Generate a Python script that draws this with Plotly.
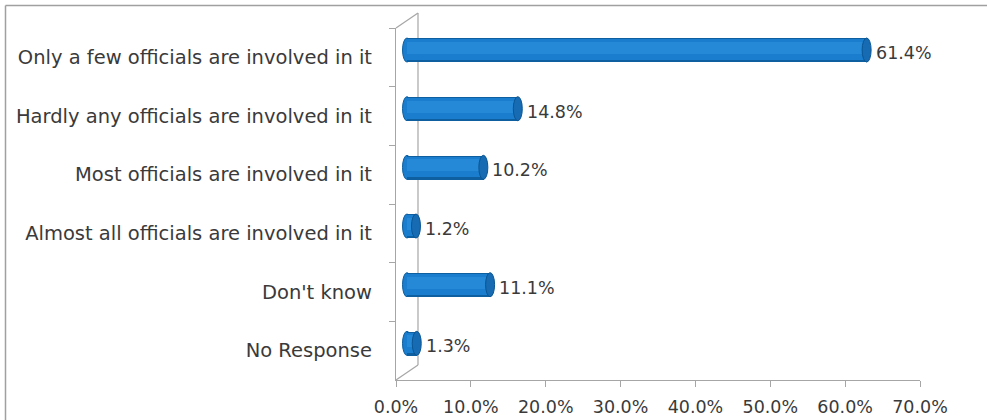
import plotly.graph_objects as go

# Survey responses: share of respondents per answer
categories = [
    "Only a few officials are involved in it",
    "Hardly any officials are involved in it",
    "Most officials are involved in it",
    "Almost all officials are involved in it",
    "Don't know",
    "No Response",
]
shares = [61.4, 14.8, 10.2, 1.2, 11.1, 1.3]
x_ticks = [0, 10, 20, 30, 40, 50, 60, 70]
x_tick_labels = [f"{v:.1f}%" for v in x_ticks]

W, H = 987, 420
AXIS = "#a6a6a6"
TEXT = "#3a3a3a"
FONT = "DejaVu Sans"


def px_x(p):
    return p / W


def px_y(p):
    return 1 - p / H


# front plane of the 3-D box, depth offset of bars and back wall (pixels)
FX0, FX1, FY0, FY1 = 396, 920, 28, 380
BAR_DX, BAR_DY = 11, 7.3
WALL_DX, WALL_DY = 22, 15

pos = list(range(len(categories)))
xr = [0, 70]
yr = [len(categories) - 0.5, -0.5]

# the bar axes get a little room left of zero so the rounded ends are not clipped
PAD = 1.5
PX_PER_UNIT = (FX1 - FX0) / (xr[1] - xr[0])

fig = go.Figure()

# cylinder body built from layered bars (dark rim, body, highlight)
layers = [
    (0.41, 0.0, "#0e5f9f"),
    (0.35, -0.01, "#1a7dcd"),
    (0.20, -0.04, "#2589d8"),
]
for width, shift, color in layers:
    fig.add_trace(go.Bar(
        x=shares, y=pos, orientation="h", width=width,
        offset=[shift - width / 2] * len(pos),
        marker=dict(color=color, line=dict(width=0)),
        xaxis="x2", yaxis="y2", hoverinfo="skip", showlegend=False,
    ))

shapes = []
for v, p in zip(shares, pos):
    # rounded back end of the cylinder at zero (behind the body)
    shapes.append(dict(
        type="circle", xref="x2", yref="y2", xsizemode="pixel", xanchor=0,
        x0=-4.5, x1=4.5, y0=p - 0.205, y1=p + 0.205,
        fillcolor="#1a7dcd", line=dict(color="#0e5f9f", width=1), layer="below",
    ))
    # end cap face at the value
    shapes.append(dict(
        type="circle", xref="x2", yref="y2", xsizemode="pixel", xanchor=v,
        x0=-4.5, x1=4.5, y0=p - 0.205, y1=p + 0.205,
        fillcolor="#166bb3", line=dict(color="#0b5592", width=1), layer="above",
    ))

# back wall edge and the box edges joining it to the front axes (behind the bars)
shapes += [
    dict(type="line", xref="paper", yref="paper",
         x0=px_x(FX0 + WALL_DX), y0=px_y(FY0 - WALL_DY),
         x1=px_x(FX0 + WALL_DX), y1=px_y(FY1 - WALL_DY),
         line=dict(color=AXIS, width=1.2), layer="below"),
    dict(type="line", xref="paper", yref="paper",
         x0=px_x(FX0), y0=px_y(FY0), x1=px_x(FX0 + WALL_DX), y1=px_y(FY0 - WALL_DY),
         line=dict(color=AXIS, width=1.2), layer="below"),
    dict(type="line", xref="paper", yref="paper",
         x0=px_x(FX0), y0=px_y(FY1), x1=px_x(FX0 + WALL_DX), y1=px_y(FY1 - WALL_DY),
         line=dict(color=AXIS, width=1.2), layer="below"),
    # chart area frame (top and left)
    dict(type="line", xref="paper", yref="paper",
         x0=px_x(5.5), y0=px_y(5.5), x1=1.0, y1=px_y(5.5),
         line=dict(color="#a0a0a0", width=1.5)),
    dict(type="line", xref="paper", yref="paper",
         x0=px_x(5.5), y0=px_y(5.5), x1=px_x(5.5), y1=0,
         line=dict(color="#a0a0a0", width=1.5)),
]

annotations = [
    dict(x=v, y=p, xref="x2", yref="y2", text=f"{v:.1f}%", showarrow=False,
         xanchor="left", yanchor="middle", xshift=7, yshift=-3,
         font=dict(family=FONT, size=17.5, color=TEXT))
    for v, p in zip(shares, pos)
]

fig.update_layout(
    width=W, height=H,
    margin=dict(l=0, r=0, t=0, b=0, autoexpand=False),
    paper_bgcolor="white", plot_bgcolor="rgba(0,0,0,0)",
    barmode="overlay", bargap=0,
    shapes=shapes, annotations=annotations,
    # front axes carrying the visible scales
    xaxis=dict(
        domain=[px_x(FX0), px_x(FX1)], range=xr, tickvals=x_ticks, ticktext=x_tick_labels,
        showgrid=False, zeroline=False, showline=True, linecolor=AXIS, linewidth=1.2,
        ticks="outside", ticklen=6, tickcolor=AXIS, anchor="y", automargin=False,
        ticklabelstandoff=5,
        tickfont=dict(family=FONT, size=17.5, color=TEXT), fixedrange=True,
    ),
    yaxis=dict(
        domain=[px_y(FY1), px_y(FY0)], type="category", categoryorder="array",
        categoryarray=categories, range=[len(categories) - 0.5, -0.5], tickson="boundaries",
        showgrid=False, zeroline=False, showline=True, linecolor=AXIS, linewidth=1.2,
        ticks="outside", ticklen=6, tickcolor=AXIS, anchor="x", ticklabelstandoff=19,
        automargin=False,
        tickfont=dict(family=FONT, size=19.5, color=TEXT), fixedrange=True,
    ),
    # mid-depth axes the cylinders are drawn on
    xaxis2=dict(
        domain=[px_x(FX0 + BAR_DX - PAD * PX_PER_UNIT), px_x(FX1 + BAR_DX)],
        range=[xr[0] - PAD, xr[1]], visible=False,
        anchor="y2", fixedrange=True, automargin=False,
    ),
    yaxis2=dict(
        domain=[px_y(FY1 - BAR_DY), px_y(FY0 - BAR_DY)], range=yr, visible=False,
        anchor="x2", fixedrange=True, automargin=False,
    ),
)

# labels for the front category axis
fig.add_trace(go.Scatter(x=[None] * len(categories), y=categories, mode="markers",
                         xaxis="x", yaxis="y", showlegend=False, hoverinfo="skip"))

fig.write_html("out.html")
